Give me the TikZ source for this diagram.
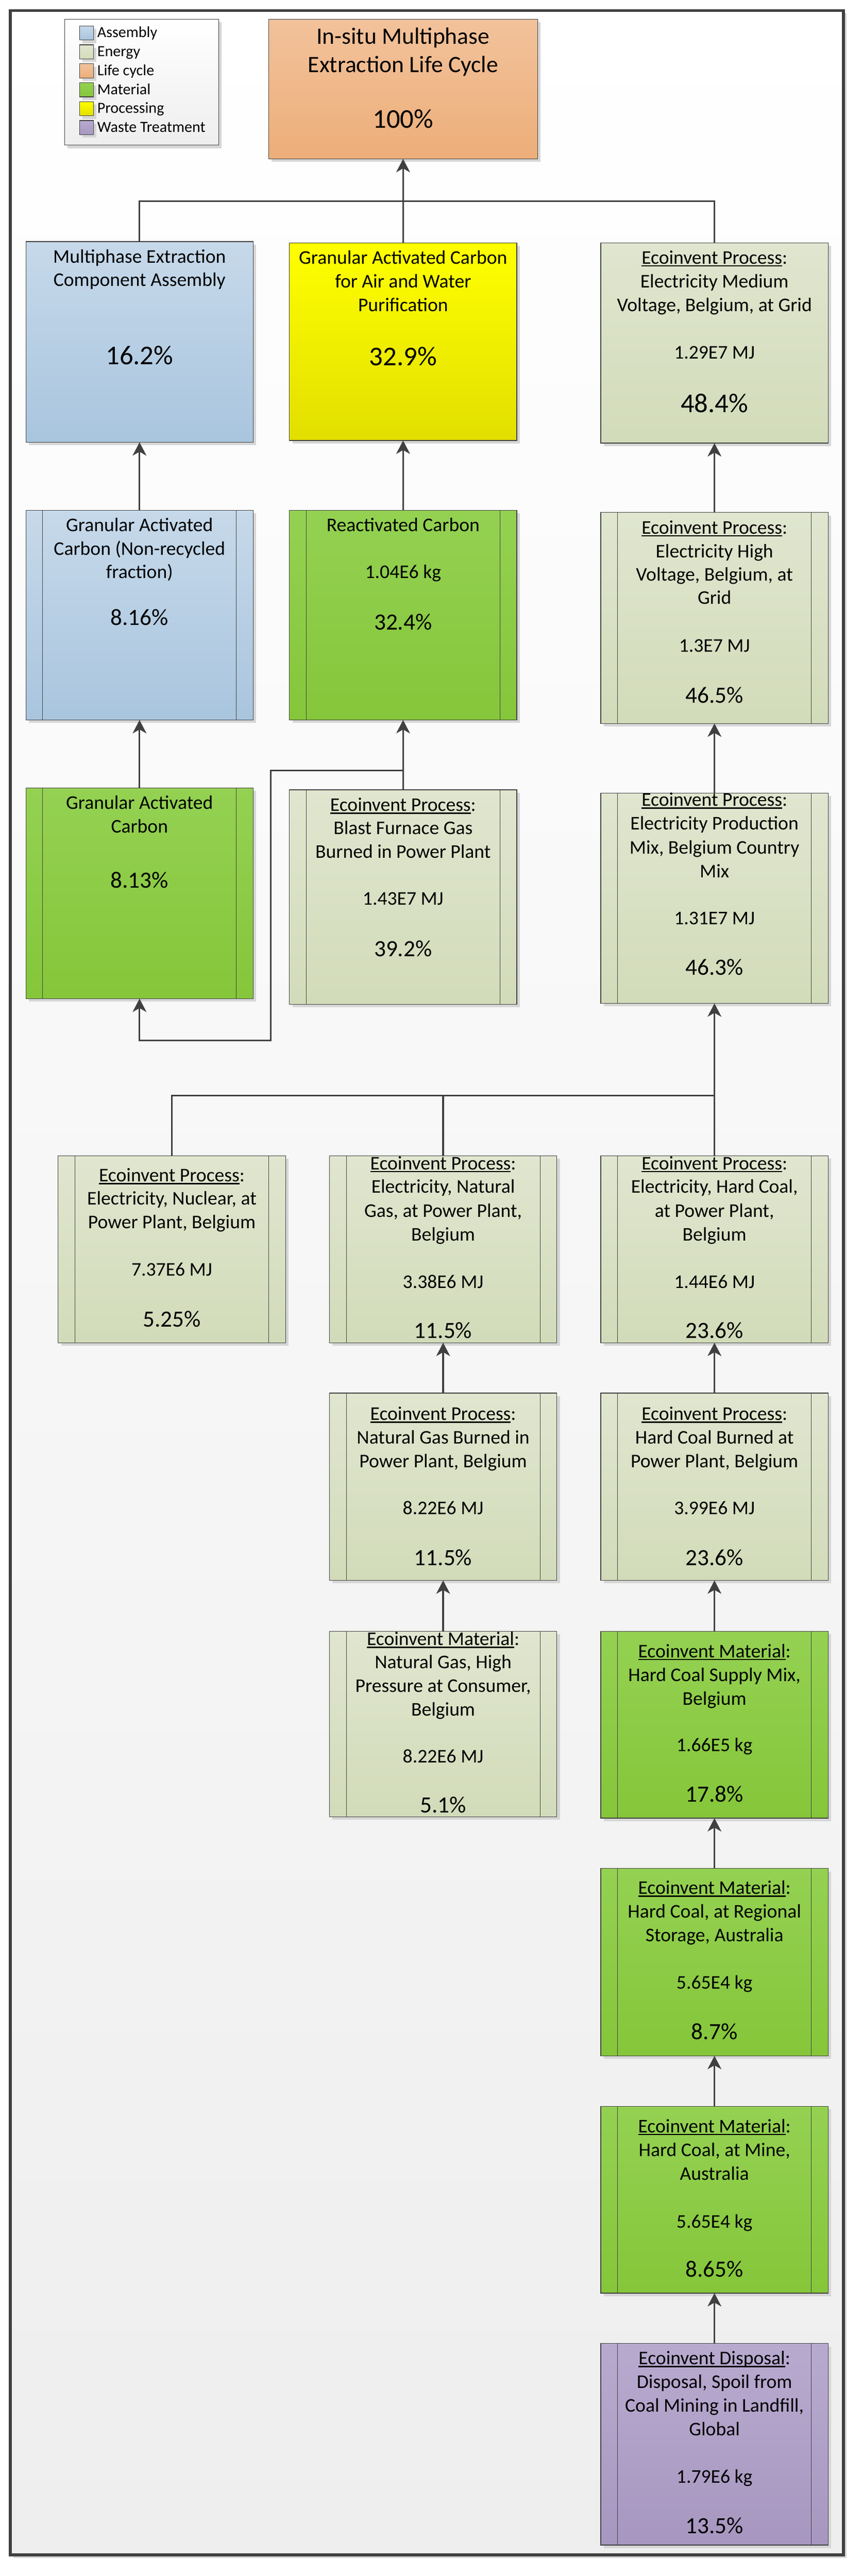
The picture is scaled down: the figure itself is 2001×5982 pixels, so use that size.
\documentclass[tikz,border=0pt]{standalone}
\usepackage{fontspec}
\setmainfont{Carlito}
\usetikzlibrary{arrows.meta,shadows}
\definecolor{ink}{HTML}{404040}
\definecolor{asmT}{HTML}{C6D9EA}\definecolor{asmB}{HTML}{A9C5DE}
\definecolor{enT}{HTML}{E0E6CF}\definecolor{enB}{HTML}{D2DBB9}
\definecolor{lcT}{HTML}{F2C29B}\definecolor{lcB}{HTML}{EDAE79}
\definecolor{matT}{HTML}{94D152}\definecolor{matB}{HTML}{85C63A}
\definecolor{proT}{HTML}{FFFF00}\definecolor{proB}{HTML}{E2DF00}
\definecolor{wstT}{HTML}{B8AACF}\definecolor{wstB}{HTML}{A797C0}
\definecolor{bgB}{HTML}{EEEEEE}
\newsavebox\ulbox
\newcommand\ecoul[1]{\sbox\ulbox{#1}\rlap{\rule[-6pt]{\wd\ulbox}{3pt}}\usebox\ulbox}
\newcommand\tline[4][txt]{\node[#1] (#2) at #3 {#4};}
\newcommand\bx[6]{\node[box,#2,minimum width={#5pt-#3pt},minimum height={#6pt-#4pt}] (#1) at (#3,#4) {};}
\newcommand\sidebars[1]{\draw[bar] ([xshift=39pt]#1.north west) -- ([xshift=39pt]#1.south west);
  \draw[bar] ([xshift=-39pt]#1.north east) -- ([xshift=-39pt]#1.south east);}
\tikzset{
  shd/.style={drop shadow={shadow xshift=7pt,shadow yshift=-7pt,fill=black!16,opacity=1}},
  box/.style={draw=ink,line width=1.5pt,anchor=north west,inner sep=0pt,outer sep=0pt,shd},
  asm/.style={top color=asmT,bottom color=asmB},
  en/.style={top color=enT,bottom color=enB},
  lc/.style={top color=lcT,bottom color=lcB},
  mat/.style={top color=matT,bottom color=matB},
  pro/.style={top color=proT,bottom color=proB},
  wst/.style={top color=wstT,bottom color=wstB},
  legbg/.style={top color=white,bottom color=bgB},
  bar/.style={draw=ink,line width=1.2pt},
  conn/.style={draw=ink,line width=4pt},
  arr/.style={conn,-{Stealth[length=31pt,width=32pt,inset=9pt]}},
  txt/.style={inner sep=0pt,outer sep=0pt,anchor=base,font=\fontsize{45pt}{55pt}\selectfont},
  pct/.style={txt,font=\fontsize{54pt}{64pt}\selectfont},
  pctb/.style={txt,font=\fontsize{63pt}{75pt}\selectfont},
  ttl/.style={txt,font=\fontsize{54.5pt}{66pt}\selectfont},
  leg/.style={inner sep=0pt,outer sep=0pt,anchor=base west,font=\fontsize{36pt}{44pt}\selectfont},
  sw/.style={box,minimum width=32pt,minimum height=33pt}
}
\begin{document}
\begin{tikzpicture}[x=1pt,y=-1pt]
\useasboundingbox (0,0) rectangle (2001,5982);
\fill[white] (0,0) rectangle (2001,5982);
% frame
\path[draw=ink,line width=7pt,top color=white,bottom color=bgB,shd] (24,24.5) rectangle (1958.5,5933);
% legend
\bx{Lg}{legbg}{150}{45}{508}{337}
\node[sw,asm] (sw1) at (185,60) {};
\node[sw,en]  (sw2) at (185,104) {};
\node[sw,lc]  (sw3) at (185,148) {};
\node[sw,mat] (sw4) at (185,192) {};
\node[sw,pro] (sw5) at (185,236) {};
\node[sw,wst] (sw6) at (185,280) {};
\node[leg] (lg1) at (226,87) {Assembly};
\node[leg] (lg2) at (226,131) {Energy};
\node[leg] (lg3) at (226,175) {Life cycle};
\node[leg] (lg4) at (226,219) {Material};
\node[leg] (lg5) at (226,263) {Processing};
\node[leg] (lg6) at (226,307) {Waste Treatment};
% boxes
\bx{T}{lc}{624}{45}{1248}{369}
\bx{A}{asm}{60}{561}{588}{1027}
\bx{B}{pro}{672}{564}{1200}{1023}
\bx{C}{en}{1395}{564}{1923}{1029}
\bx{D}{asm}{60}{1185}{588}{1672}\sidebars{D}
\bx{E}{mat}{672}{1185}{1200}{1672}\sidebars{E}
\bx{F}{en}{1395}{1190}{1923}{1680}\sidebars{F}
\bx{G}{mat}{60}{1830}{588}{2319}\sidebars{G}
\bx{H}{en}{672}{1834}{1200}{2332}\sidebars{H}
\bx{I}{en}{1395}{1842}{1923}{2330}\sidebars{I}
\bx{J}{en}{135}{2684}{663}{3118}\sidebars{J}
\bx{K}{en}{765}{2684}{1293}{3118}\sidebars{K}
\bx{L}{en}{1395}{2684}{1923}{3118}\sidebars{L}
\bx{M}{en}{765}{3235}{1293}{3670}\sidebars{M}
\bx{N}{en}{1395}{3235}{1923}{3670}\sidebars{N}
\bx{O}{en}{765}{3788}{1293}{4219}\sidebars{O}
\bx{P}{mat}{1395}{3788}{1923}{4222}\sidebars{P}
\bx{Q}{mat}{1395}{4339}{1923}{4774}\sidebars{Q}
\bx{R}{mat}{1395}{4891}{1923}{5325}\sidebars{R}
\bx{S}{wst}{1395}{5442}{1923}{5910}\sidebars{S}
% texts
\tline[ttl]{T1}{(936,102)}{In-situ Multiphase}
\tline[ttl]{T2}{(936,168)}{Extraction Life Cycle}
\tline[pctb]{T3}{(936,297)}{100\%}
\tline{A1}{(324,611)}{Multiphase Extraction}
\tline{A2}{(324,665)}{Component Assembly}
\tline[pctb]{A3}{(324,846)}{16.2\%}
\tline{B1}{(936,613)}{Granular Activated Carbon}
\tline{B2}{(936,668)}{for Air and Water}
\tline{B3}{(936,723)}{Purification}
\tline[pctb]{B4}{(936,849)}{32.9\%}
\tline{C1}{(1659,613)}{\ecoul{Ecoinvent Process}:}
\tline{C2}{(1659,668)}{Electricity Medium}
\tline{C3}{(1659,723)}{Voltage, Belgium, at Grid}
\tline{C4}{(1659,833)}{1.29E7 MJ}
\tline[pctb]{C5}{(1659,958)}{48.4\%}
\tline{D1}{(324,1234)}{Granular Activated}
\tline{D2}{(324,1289)}{Carbon (Non-recycled}
\tline{D3}{(324,1343)}{fraction)}
\tline[pct]{D4}{(324,1452)}{8.16\%}
\tline{E1}{(936,1234)}{Reactivated Carbon}
\tline{E2}{(936,1343)}{1.04E6 kg}
\tline[pct]{E3}{(936,1462)}{32.4\%}
\tline{F1}{(1659,1240)}{\ecoul{Ecoinvent Process}:}
\tline{F2}{(1659,1295)}{Electricity High}
\tline{F3}{(1659,1349)}{Voltage, Belgium, at}
\tline{F4}{(1659,1403)}{Grid}
\tline{F5}{(1659,1514)}{1.3E7 MJ}
\tline[pct]{F6}{(1659,1633)}{46.5\%}
\tline{G1}{(324,1879)}{Granular Activated}
\tline{G2}{(324,1934)}{Carbon}
\tline[pct]{G3}{(324,2062)}{8.13\%}
\tline{H1}{(936,1884)}{\ecoul{Ecoinvent Process}:}
\tline{H2}{(936,1938)}{Blast Furnace Gas}
\tline{H3}{(936,1993)}{Burned in Power Plant}
\tline{H4}{(936,2102)}{1.43E7 MJ}
\tline[pct]{H5}{(936,2221)}{39.2\%}
\tline{I1}{(1659,1872)}{\ecoul{Ecoinvent Process}:}
\tline{I2}{(1659,1927)}{Electricity Production}
\tline{I3}{(1659,1983)}{Mix, Belgium Country}
\tline{I4}{(1659,2038)}{Mix}
\tline{I5}{(1659,2147)}{1.31E7 MJ}
\tline[pct]{I6}{(1659,2264)}{46.3\%}
\tline{J1}{(399,2744)}{\ecoul{Ecoinvent Process}:}
\tline{J2}{(399,2798)}{Electricity, Nuclear, at}
\tline{J3}{(399,2853)}{Power Plant, Belgium}
\tline{J4}{(399,2963)}{7.37E6 MJ}
\tline[pct]{J5}{(399,3081)}{5.25\%}
\tline{K1}{(1029,2716)}{\ecoul{Ecoinvent Process}:}
\tline{K2}{(1029,2770)}{Electricity, Natural}
\tline{K3}{(1029,2826)}{Gas, at Power Plant,}
\tline{K4}{(1029,2881)}{Belgium}
\tline{K5}{(1029,2991)}{3.38E6 MJ}
\tline[pct]{K6}{(1029,3108)}{11.5\%}
\tline{L1}{(1659,2716)}{\ecoul{Ecoinvent Process}:}
\tline{L2}{(1659,2770)}{Electricity, Hard Coal,}
\tline{L3}{(1659,2826)}{at Power Plant,}
\tline{L4}{(1659,2881)}{Belgium}
\tline{L5}{(1659,2991)}{1.44E6 MJ}
\tline[pct]{L6}{(1659,3108)}{23.6\%}
\tline{M1}{(1029,3298)}{\ecoul{Ecoinvent Process}:}
\tline{M2}{(1029,3353)}{Natural Gas Burned in}
\tline{M3}{(1029,3408)}{Power Plant, Belgium}
\tline{M4}{(1029,3517)}{8.22E6 MJ}
\tline[pct]{M5}{(1029,3635)}{11.5\%}
\tline{N1}{(1659,3298)}{\ecoul{Ecoinvent Process}:}
\tline{N2}{(1659,3353)}{Hard Coal Burned at}
\tline{N3}{(1659,3408)}{Power Plant, Belgium}
\tline{N4}{(1659,3517)}{3.99E6 MJ}
\tline[pct]{N5}{(1659,3635)}{23.6\%}
\tline{O1}{(1029,3821)}{\ecoul{Ecoinvent Material}:}
\tline{O2}{(1029,3875)}{Natural Gas, High}
\tline{O3}{(1029,3930)}{Pressure at Consumer,}
\tline{O4}{(1029,3984)}{Belgium}
\tline{O5}{(1029,4094)}{8.22E6 MJ}
\tline[pct]{O6}{(1029,4210)}{5.1\%}
\tline{P1}{(1659,3849)}{\ecoul{Ecoinvent Material}:}
\tline{P2}{(1659,3904)}{Hard Coal Supply Mix,}
\tline{P3}{(1659,3959)}{Belgium}
\tline{P4}{(1659,4067)}{1.66E5 kg}
\tline[pct]{P5}{(1659,4184)}{17.8\%}
\tline{Q1}{(1659,4399)}{\ecoul{Ecoinvent Material}:}
\tline{Q2}{(1659,4454)}{Hard Coal, at Regional}
\tline{Q3}{(1659,4508)}{Storage, Australia}
\tline{Q4}{(1659,4619)}{5.65E4 kg}
\tline[pct]{Q5}{(1659,4736)}{8.7\%}
\tline{R1}{(1659,4952)}{\ecoul{Ecoinvent Material}:}
\tline{R2}{(1659,5007)}{Hard Coal, at Mine,}
\tline{R3}{(1659,5062)}{Australia}
\tline{R4}{(1659,5174)}{5.65E4 kg}
\tline[pct]{R5}{(1659,5287)}{8.65\%}
\tline{S1}{(1659,5491)}{\ecoul{Ecoinvent Disposal}:}
\tline{S2}{(1659,5546)}{Disposal, Spoil from}
\tline{S3}{(1659,5601)}{Coal Mining in Landfill,}
\tline{S4}{(1659,5656)}{Global}
\tline{S5}{(1659,5766)}{1.79E6 kg}
\tline[pct]{S6}{(1659,5883)}{13.5\%}
% connectors
\coordinate (j1) at (936,467);
\coordinate (h1) at (936,1789);
\coordinate (l1) at (629,1789);
\coordinate (l2) at (629,2416);
\coordinate (j4) at (1659,2544);
\draw[conn] (A.north) |- (j1);
\draw[conn] (C.north) |- (j1);
\draw[conn] (B.north) -- (j1);
\draw[arr] (j1) -- (T.south);
\draw[arr] (D.north) -- (A.south);
\draw[arr] (E.north) -- (B.south);
\draw[arr] (F.north) -- (C.south);
\draw[arr] (G.north) -- (D.south);
\draw[arr] (H.north) -- (E.south);
\draw[arr] (I.north) -- (F.south);
\draw[arr] (h1) -- (l1) -- (l2) -| (G.south);
\draw[conn] (J.north) |- (j4);
\draw[conn] (K.north) |- (j4);
\draw[conn] (L.north) -- (j4);
\draw[arr] (j4) -- (I.south);
\draw[arr] (M.north) -- (K.south);
\draw[arr] (N.north) -- (L.south);
\draw[arr] (O.north) -- (M.south);
\draw[arr] (P.north) -- (N.south);
\draw[arr] (Q.north) -- (P.south);
\draw[arr] (R.north) -- (Q.south);
\draw[arr] (S.north) -- (R.south);
\end{tikzpicture}
\end{document}
